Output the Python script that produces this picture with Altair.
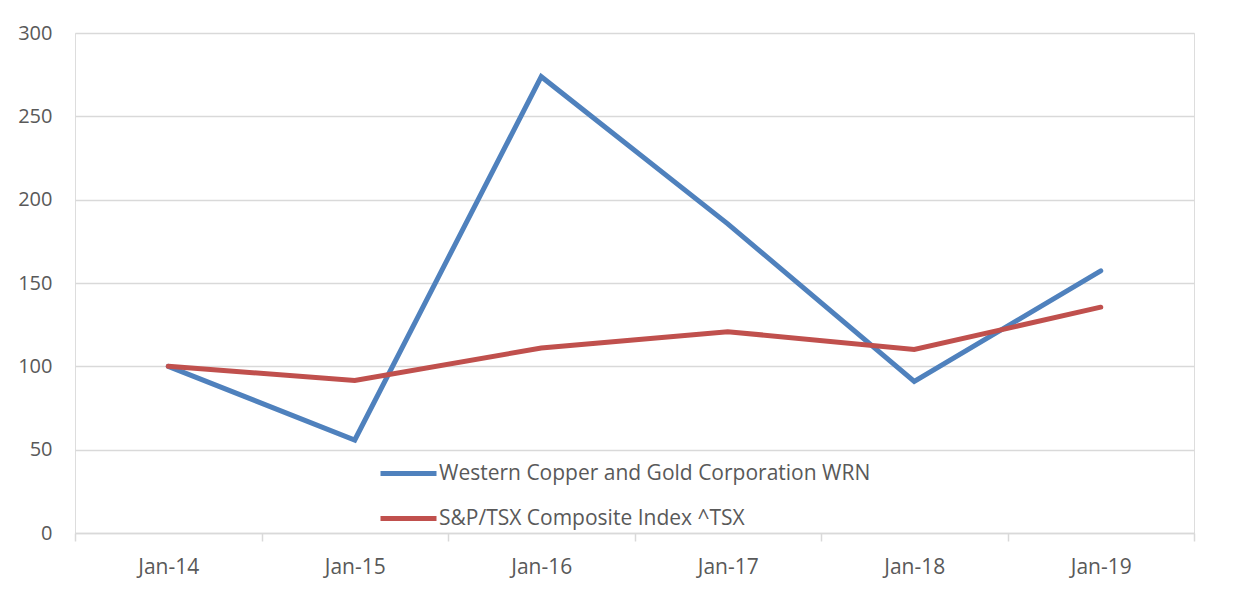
import altair as alt
import pandas as pd

categories = ["Jan-14", "Jan-15", "Jan-16", "Jan-17", "Jan-18", "Jan-19"]
series_names = ["Western Copper and Gold Corporation WRN", "S&P/TSX Composite Index ^TSX"]
wrn_values = [100, 55.8, 273.8, 185.5, 90.9, 157.3]
tsx_values = [100, 91.5, 111.0, 120.8, 110.1, 135.5]
y_ticks = [0, 50, 100, 150, 200, 250, 300]
colors = ["#4F81BD", "#C0504D"]

rows = []
for name, vals in zip(series_names, [wrn_values, tsx_values]):
    for c, v in zip(categories, vals):
        rows.append({"date": c, "value": v, "series": name})
df = pd.DataFrame(rows)

FONT = "Open Sans"
TEXT = "#595959"
GRID = "#D9D9D9"

chart = (
    alt.Chart(df)
    .mark_line(strokeWidth=5, strokeCap="round")
    .encode(
        x=alt.X(
            "date:N",
            sort=categories,
            title=None,
            scale=alt.Scale(paddingInner=0, paddingOuter=0),
            axis=alt.Axis(
                labelAngle=0,
                labelFont=FONT,
                labelFontSize=21,
                labelColor=TEXT,
                tickBand="extent",
                ticks=True,
                tickSize=8,
                tickColor=GRID,
                tickWidth=1.5,
                domainColor=GRID,
                domainWidth=1.5,
                grid=False,
                labelPadding=15,
            ),
        ),
        y=alt.Y(
            "value:Q",
            title=None,
            scale=alt.Scale(domain=[0, 300], nice=False),
            axis=alt.Axis(
                values=y_ticks,
                labelFont=FONT,
                labelFontSize=20,
                labelColor=TEXT,
                ticks=False,
                domain=False,
                grid=True,
                gridColor=GRID,
                gridWidth=1.5,
                labelPadding=23,
            ),
        ),
        color=alt.Color(
            "series:N",
            sort=series_names,
            scale=alt.Scale(domain=series_names, range=colors),
            legend=alt.Legend(
                title=None,
                orient="none",
                legendX=303,
                legendY=410,
                symbolType="stroke",
                symbolSize=3136,
                symbolStrokeWidth=5,
                labelFont=FONT,
                labelFontSize=21,
                labelColor=TEXT,
                labelOffset=0,
                rowPadding=4,
                labelLimit=600,
                padding=0,
            ),
        ),
    )
    .properties(
        width=1119,
        height=500,
        padding={"left": 9, "top": 15, "right": 5, "bottom": 3},
    )
    .configure_view(stroke=None)
    .configure(background="white")
)

chart.save("out.html", embed_options={"renderer": "svg", "actions": False})
